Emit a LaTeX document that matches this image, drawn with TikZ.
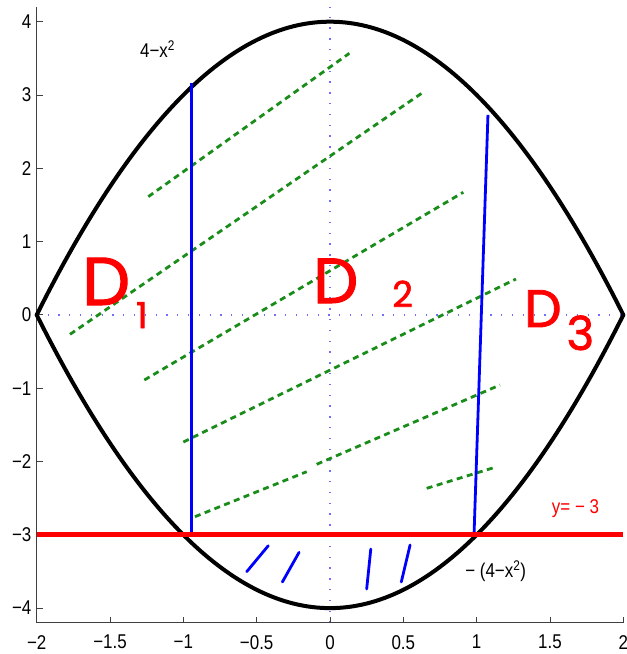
\documentclass[tikz,border=0pt]{standalone}
\usepackage{fontspec}
\setmainfont{Liberation Sans}
\newfontfamily\axfont[FakeStretch=0.85]{Liberation Sans}
\newfontfamily\hand[FakeBold=1.5]{Poppins}
\definecolor{dgreen}{RGB}{25,140,25}
\definecolor{pred}{RGB}{255,0,0}
\definecolor{dotblue}{RGB}{110,110,255}
\begin{document}
\begin{tikzpicture}[x=146.65bp,y=73.3bp,
  curve/.style={line width=4bp, black, line cap=round, line join=round},
  vline/.style={draw=blue, line width=2.8bp},
  hatch/.style={draw=blue, line width=2.8bp, line cap=round},
  grline/.style={draw=dgreen, line width=2.8bp, dash pattern=on 6bp off 4.5bp},
  zeroline/.style={draw=dotblue, line width=1.3bp, dash pattern=on 1.3bp off 9.5bp},
  axisline/.style={draw=black!75, line width=0.9bp},
  ticklab/.style={font=\axfont\fontsize{20}{20}\selectfont, inner sep=0pt},
  plotlab/.style={font=\axfont\fontsize{20}{20}\selectfont, inner sep=0pt, anchor=base west},
  dlab/.style={text=pred, inner sep=0pt, anchor=base west}]
\useasboundingbox (-2.2503,-4.626) rectangle (2.0184,4.296);

% zero lines
\draw[zeroline] (0,-4.2) -- (0,4.2);
\draw[zeroline] (-2,0) -- (2,0);

% axes
\draw[axisline] (-2,4.2) -- (-2,-4.2) -- (2,-4.2);
\foreach \v in {-2,-1.5,...,2} \draw[axisline] (\v,-4.2) -- ++(0,0.0819);
\foreach \v in {-4,...,4} \draw[axisline] (-2,\v) -- ++(0.0409,0);
\foreach \v/\t [count=\i] in {-2/−2,-1.5/−1.5,-1/−1,-0.5/−0.5,0/0,0.5/0.5,1/1,1.5/1.5,2/2}
  \node[ticklab, anchor=north] (xt\i) at (\v,-4.367) {\t};
\foreach \v/\t [count=\i] in {-4/−4,-3/−3,-2/−2,-1/−1,0/0,1/1,2/2,3/3,4/4}
  \node[ticklab, anchor=east] (yt\i) at (-2.035,\v) {\t};

% parabolas
\draw[curve] (-2,0) .. controls (-0.6667,5.3333) and (0.6667,5.3333) .. (2,0);
\draw[curve] (-2,0) .. controls (-0.6667,-5.3333) and (0.6667,-5.3333) .. (2,0);

% green dashed lines
\draw[grline] (-1.239,1.613) -- (0.132,3.569);
\draw[grline] (-1.773,-0.265) -- (0.648,3.055);
\draw[grline] (-1.266,-0.888) -- (0.909,1.673);
\draw[grline] (-1.000,-1.734) -- (1.268,0.490);
\draw[grline] (-0.921,-2.753) -- (-0.159,-2.139);
\draw[grline] (-0.091,-2.038) -- (1.159,-0.956);
\draw[grline] (0.659,-2.366) -- (1.125,-2.079);

% blue lines
\draw[vline] (-0.945,-3) -- (-0.945,3.16);
\draw[vline] (0.982,-3) -- (1.077,2.73);

% red line
\draw[draw=pred, line width=5bp] (-2,-3) -- (2,-3);

% hatches
\draw[hatch] (-0.421,-3.149) -- (-0.568,-3.503);
\draw[hatch] (-0.211,-3.239) -- (-0.325,-3.644);
\draw[hatch] (0.278,-3.194) -- (0.250,-3.739);
\draw[hatch] (0.546,-3.139) -- (0.486,-3.644);

% labels
\node[plotlab] (top) at (-1.296,3.505) {4−x\textsuperscript{2}};
\node[plotlab] (bot) at (0.921,-3.589) {− (4−x\textsuperscript{2})};
\node[plotlab, text=pred] (yeq) at (1.512,-2.706) {y= − 3};

\node[dlab] (d1) at (-1.691,0.135) {\hand\fontsize{68}{68}\selectfont D\hspace{6bp}\raisebox{-23bp}{\fontsize{36}{36}\selectfont 1}};
\node[dlab] (d2) at (-0.116,0.162) {\hand\fontsize{64}{64}\selectfont D\hspace{34bp}\raisebox{-4bp}{\fontsize{36}{36}\selectfont 2}};
\node[dlab] (d3) at (1.323,-0.165) {\hand\fontsize{53}{53}\selectfont D\hspace{5bp}\raisebox{-23bp}{\fontsize{47}{47}\selectfont 3}};
\end{tikzpicture}
\end{document}
